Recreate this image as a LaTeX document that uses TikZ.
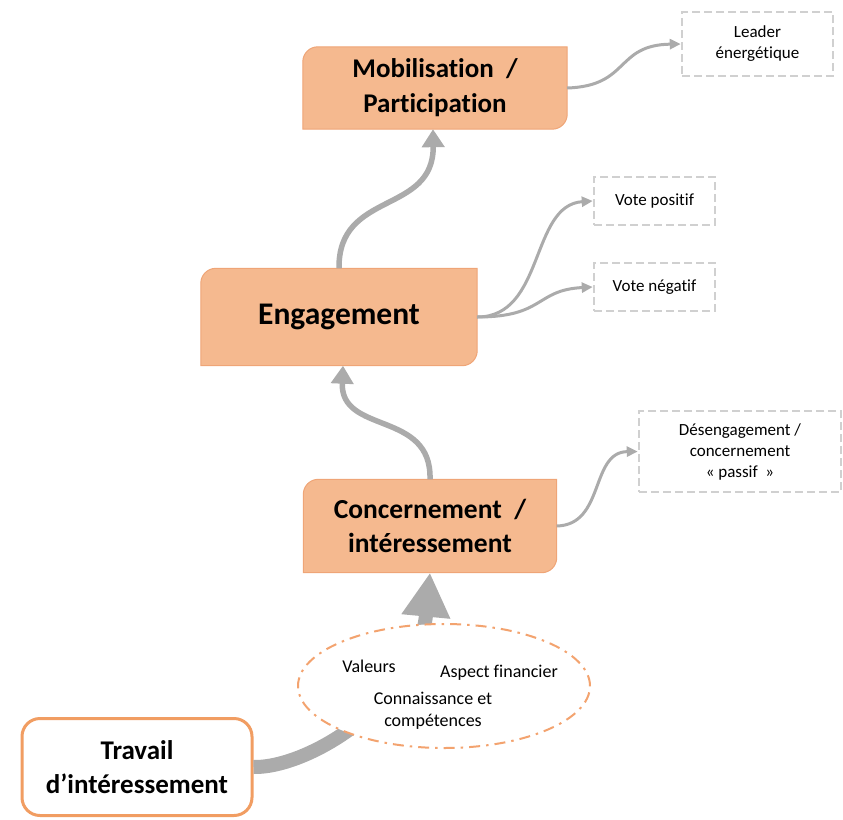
\documentclass[tikz,border=0pt]{standalone}
\usepackage{fontspec}
\setmainfont{Carlito}[Ligatures=NoCommon]
\usetikzlibrary{arrows.meta,backgrounds}
\definecolor{stagefill}{HTML}{F5B98F}
\definecolor{stageline}{HTML}{EFA577}
\definecolor{travline}{HTML}{F19D62}
\definecolor{arrowgray}{HTML}{ABABAB}
\definecolor{boxgray}{HTML}{D0D0D0}
\definecolor{dotorange}{HTML}{F3A36F}
% fill a box with rounded top-left and bottom-right corners
\newcommand\diagfill[1]{\path[fill=stagefill, draw=stageline, line width=1pt]
  (#1.north east) [rounded corners=15pt] -- (#1.north west) [sharp corners] -- (#1.south west)
  [rounded corners=15pt] -- (#1.south east) [sharp corners] -- cycle;}

\begin{document}
\begin{tikzpicture}[x=1pt,y=-1pt]
\tikzstyle{stage}=[inner sep=0pt, align=center, font=\bfseries\fontsize{27}{35}\selectfont]
\tikzstyle{outcome}=[draw=boxgray, line width=2.5pt, dash pattern=on 8pt off 4pt, inner sep=0pt, align=center, font=\fontsize{17}{21}\selectfont]
\tikzstyle{factor}=[inner sep=0pt, align=center, font=\fontsize{18}{22}\selectfont]
\tikzstyle{bigarrow}=[draw=arrowgray, line width=14pt, -{Triangle[length=44pt,width=46pt]}]
\tikzstyle{midarrow}=[draw=arrowgray, line width=5.5pt, -{Triangle[length=18pt,width=22pt]}]
\tikzstyle{thinarrow}=[draw=arrowgray, line width=3pt, -{Triangle[length=11pt,width=10pt]}]
\useasboundingbox (0,0) rectangle (843,819);

% stages
\node[stage, minimum width=264pt, minimum height=82pt] (mob) at (435,88) {Mobilisation~ /\\Participation};
\node[stage, minimum width=276pt, minimum height=97pt, font=\bfseries\fontsize{31.5}{36}\selectfont] (eng) at (339,317) {Engagement};
\node[stage, minimum width=253pt, minimum height=93pt, font=\bfseries\fontsize{27.5}{34}\selectfont] (conc) at (430,526) {Concernement~ /\\intéressement};
\node[stage, draw=travline, fill=white, line width=3pt, rounded corners=18pt, minimum width=230pt, minimum height=97pt, font=\bfseries\fontsize{27}{34}\selectfont] (trav) at (137,767) {Travail\\d’intéressement};

\begin{scope}[on background layer]
\diagfill{mob}
\diagfill{eng}
\diagfill{conc}
\end{scope}

% outcomes
\node[outcome, minimum width=151pt, minimum height=64pt] (lead) at (757.5,44) {Leader\\énergétique};
\node[outcome, minimum width=121pt, minimum height=48pt] (vpos) at (654.5,201) {Vote positif};
\node[outcome, minimum width=121pt, minimum height=48pt] (vneg) at (654.5,287) {Vote négatif};
\node[outcome, minimum width=202pt, minimum height=81pt] (desg) at (740,451.5) {Désengagement /\\concernement\\« passif~ »};

% factors
\draw[bigarrow] (trav.east) .. controls (310,768) and (418,700) .. (conc.south);
\draw[dotorange, fill=white, line width=2pt, dash pattern=on 11pt off 6pt on 2.5pt off 6pt] (444,686) ellipse [x radius=146pt, y radius=62pt];
\node[factor, anchor=base] (val) at (369,672) {Valeurs};
\node[factor, anchor=base] (asp) at (499,677) {Aspect financier};
\node[factor] (conn) at (433,711) {Connaissance et\\compétences};

% links
\draw[midarrow] (conc.north) .. controls (432,410) and (340,435) .. ([xshift=4pt]eng.south);
\draw[midarrow] (eng.north) .. controls (338,190) and (434,215) .. ([xshift=-2pt]mob.south);
\draw[thinarrow] (mob.east) .. controls (630,86) and (615,45) .. (lead.west);
\draw[thinarrow] (eng.east) .. controls (545,317) and (530,205) .. (vpos.west);
\draw[thinarrow] (eng.east) .. controls (545,317) and (535,290) .. (vneg.west);
\draw[thinarrow] (conc.east) .. controls (605,525) and (590,452) .. (desg.west);

\end{tikzpicture}
\end{document}
